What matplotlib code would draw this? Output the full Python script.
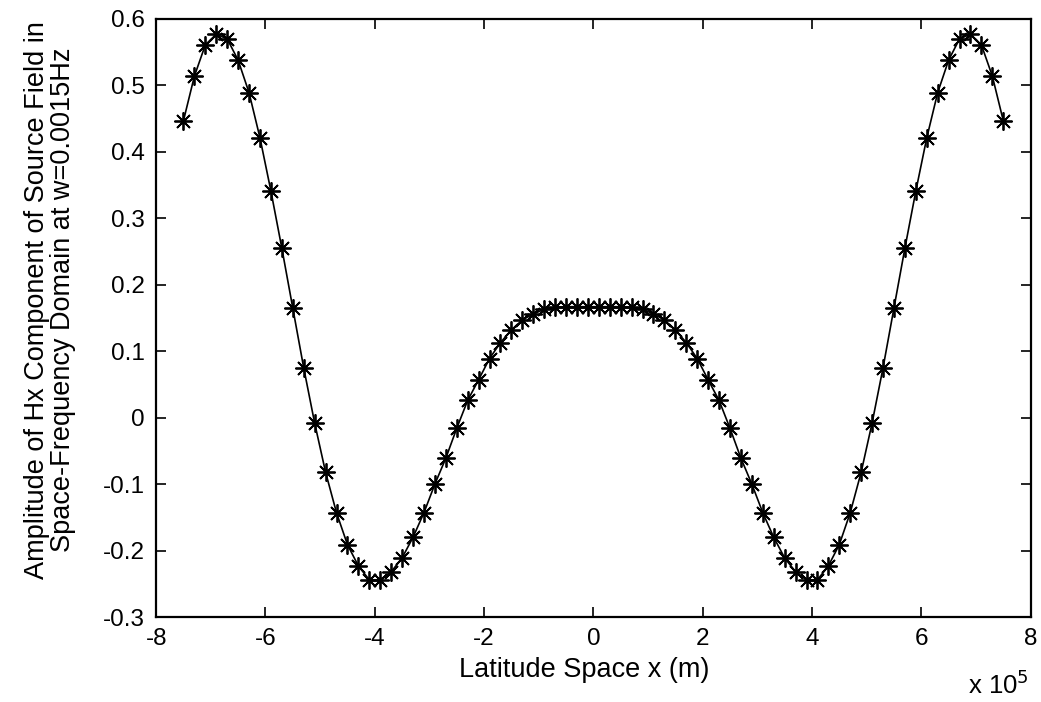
import numpy as np
import matplotlib
matplotlib.use("Agg")
import matplotlib.pyplot as plt

# x positions (in units of 1e5 m) and amplitude values (left half, symmetric)
x_left = [-7.5, -7.3, -7.1, -6.9, -6.7, -6.5, -6.3, -6.1, -5.9, -5.7,
          -5.5, -5.3, -5.1, -4.9, -4.7, -4.5, -4.3, -4.1, -3.9, -3.7,
          -3.5, -3.3, -3.1, -2.9, -2.7, -2.5, -2.3, -2.1, -1.9, -1.7,
          -1.5, -1.3, -1.1, -0.9, -0.7, -0.5, -0.3, -0.1]
y_left = [0.447, 0.514, 0.561, 0.577, 0.570, 0.538, 0.489, 0.421, 0.341, 0.255,
          0.165, 0.075, -0.008, -0.082, -0.143, -0.191, -0.223, -0.244, -0.244, -0.232,
          -0.211, -0.180, -0.143, -0.100, -0.061, -0.016, 0.026, 0.057, 0.089, 0.113,
          0.132, 0.147, 0.156, 0.163, 0.166, 0.167, 0.167, 0.167]

x_vals = np.array(x_left + [-v for v in x_left[::-1]]) * 1e5
y_vals = np.array(y_left + y_left[::-1])

x_ticks = [-8, -6, -4, -2, 0, 2, 4, 6, 8]
y_ticks = [-0.3, -0.2, -0.1, 0, 0.1, 0.2, 0.3, 0.4, 0.5, 0.6]
y_ticklabels = ["-0.3", "-0.2", "-0.1", "0", "0.1", "0.2", "0.3", "0.4", "0.5", "0.6"]

plt.rcParams['font.family'] = ['Liberation Sans', 'DejaVu Sans']

fig = plt.figure(figsize=(10.41, 7.02), dpi=100)
ax = fig.add_axes([0.150, 0.121, 0.840, 0.852])

ax.plot(x_vals, y_vals, color='black', lw=1.2, marker=(8, 2, 0),
        markersize=13, markeredgewidth=1.3)

ax.set_xlim(-8e5, 8e5)
ax.set_ylim(-0.3, 0.6)
ax.set_xticks([t * 1e5 for t in x_ticks])
ax.set_xticklabels([str(t) for t in x_ticks])
ax.set_yticks(y_ticks)
ax.set_yticklabels(y_ticklabels)

ax.tick_params(direction='in', length=7, width=1.2, top=True, right=True,
               labelsize=17.5, pad=8, colors='black')
for s in ax.spines.values():
    s.set_linewidth(1.6)

ax.set_xlabel("Latitude Space x (m)", fontsize=19.5)
ax.xaxis.set_label_coords(0.489, -0.066)
ax.xaxis.label.set_va('top')
ax.set_ylabel("Amplitude of Hx Component of Source Field in\nSpace-Frequency Domain at w=0.0015Hz",
              fontsize=19.5, linespacing=1.0)
ax.yaxis.set_label_coords(-0.092, 0.53)

fig.text(0.930, 0.004, r"x 10$^{5}$", fontsize=18.5, ha='left', va='bottom')

fig.savefig("out.png", dpi=100, facecolor='white')
